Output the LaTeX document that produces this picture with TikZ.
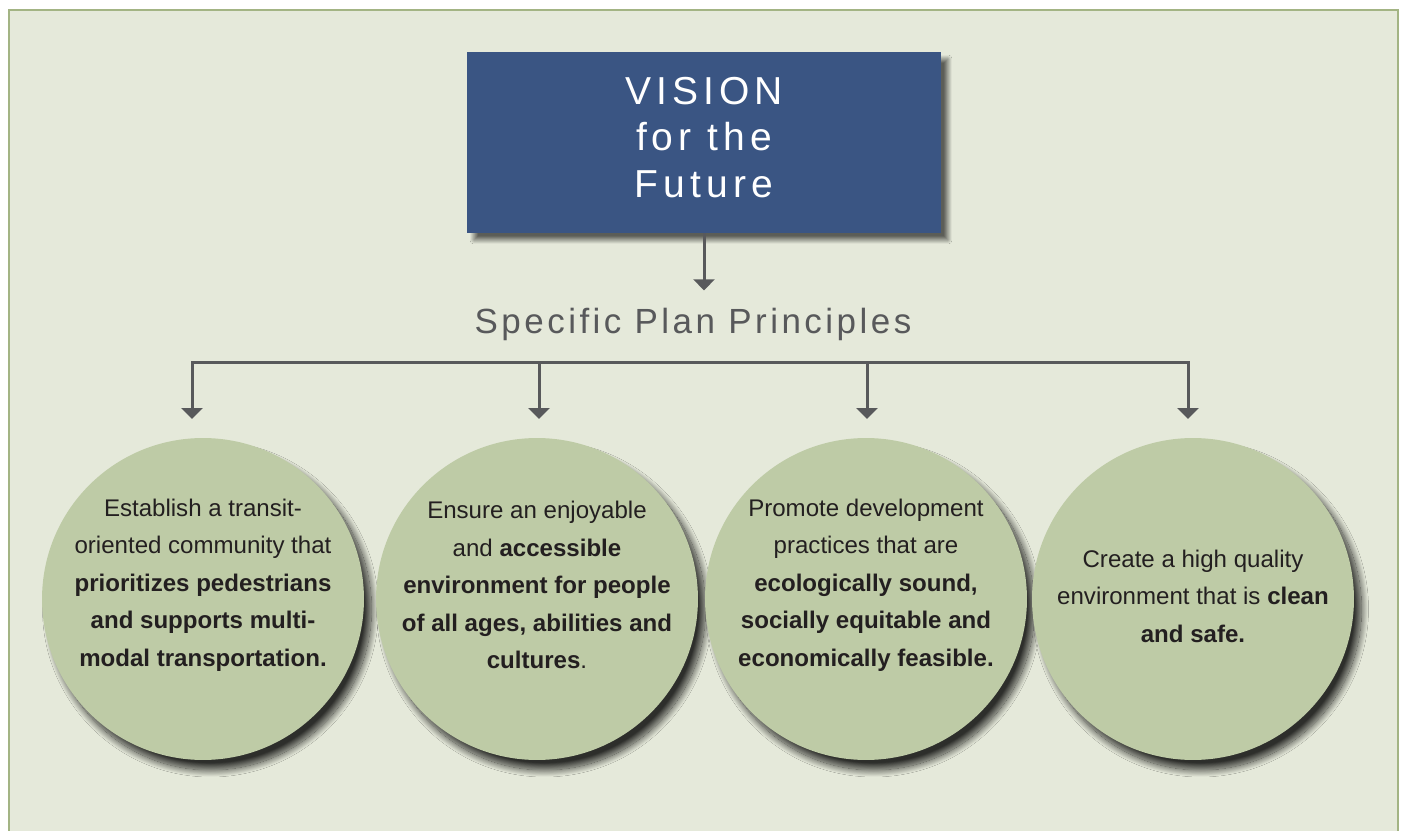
\documentclass[tikz,border=0pt]{standalone}
\usepackage{fontspec}
\setmainfont{Liberation Sans}
\newfontfamily\visionfont[LetterSpace=13]{Liberation Sans}
\newfontfamily\headfont[LetterSpace=10]{Liberation Sans}
\usetikzlibrary{positioning,arrows.meta,shadows.blur}

\definecolor{panelbg}{HTML}{E5E9DA}
\definecolor{panelrule}{HTML}{A3B484}
\definecolor{visionblue}{HTML}{3A5583}
\definecolor{sage}{HTML}{BECBA6}
\definecolor{inkgray}{HTML}{58595B}
\definecolor{inkdark}{HTML}{231F20}

\begin{document}
\begin{tikzpicture}[
  x=0.02cm, y=-0.02cm,
  visionbox/.style={fill=visionblue, minimum width=9.48cm, minimum height=3.62cm, inner sep=0pt,
    text=white, align=center, font=\visionfont\fontsize{22.2}{26.5}\selectfont,
    blur shadow={shadow xshift=0.14cm, shadow yshift=-0.14cm, shadow blur radius=0.08cm, shadow blur steps=20, shadow opacity=60}},
  headline/.style={inner sep=0pt, text=inkgray, font=\headfont\fontsize{19.9}{24}\selectfont},
  disc/.style={circle, fill=sage, minimum size=6.44cm, inner sep=0pt,
    blur shadow={shadow xshift=0.15cm, shadow yshift=-0.2cm, shadow blur radius=0.14cm, shadow blur steps=24, shadow opacity=80}},
  principle/.style={inner sep=0pt, align=center, text=inkdark, font=\fontsize{13.7}{21.4}\selectfont},
  flow/.style={-{Triangle[width=0.42cm,length=0.22cm]}, draw=inkgray, line width=0.06cm}
]
  \useasboundingbox (0,0) rectangle (1401,831);
  \draw[panelrule, line width=0.04cm, fill=panelbg] (9,10) rectangle (1398,845);

  \node[visionbox] (vision) at (704,142.5) {VISION\\for the\\Future\\[-0.72cm]};
  \node[headline] (spp) at (693,324) {Specific Plan Principles};
  \draw[flow, shorten >=0.34cm] (vision.south) -- (vision.south |- spp.north);

  \node[disc] (c1) at (203,599) {};
  \node[disc] (c2) at (537,599) {};
  \node[disc] (c3) at (866,599) {};
  \node[disc] (c4) at (1193,599) {};

  \node[principle] (t1) at (203,585) {Establish a transit-\\oriented community that\\\textbf{prioritizes pedestrians}\\\textbf{and supports multi-}\\\textbf{modal transportation.}};
  \node[principle] (t2) at (537,585) {Ensure an enjoyable\\and \textbf{accessible}\\\textbf{environment for people}\\\textbf{of all ages, abilities and}\\\textbf{cultures}.};
  \node[principle] (t3) at (866,585) {Promote development\\practices that are\\\textbf{ecologically sound,}\\\textbf{socially equitable and}\\\textbf{economically feasible.}};
  \node[principle] (t4) at (1193,596) {Create a high quality\\environment that is \textbf{clean}\\\textbf{and safe.}};

  \coordinate (mid) at (700,363);
  \coordinate (br2) at (539,363);
  \coordinate (br3) at (867,363);
  \coordinate (a1) at (192,419);
  \coordinate (a2) at (539,419);
  \coordinate (a3) at (867,419);
  \coordinate (a4) at (1188,419);
  \draw[flow] (mid) -| (a1);
  \draw[flow] (mid) -| (a4);
  \draw[flow] (br2) -- (a2);
  \draw[flow] (br3) -- (a3);
\end{tikzpicture}
\end{document}
